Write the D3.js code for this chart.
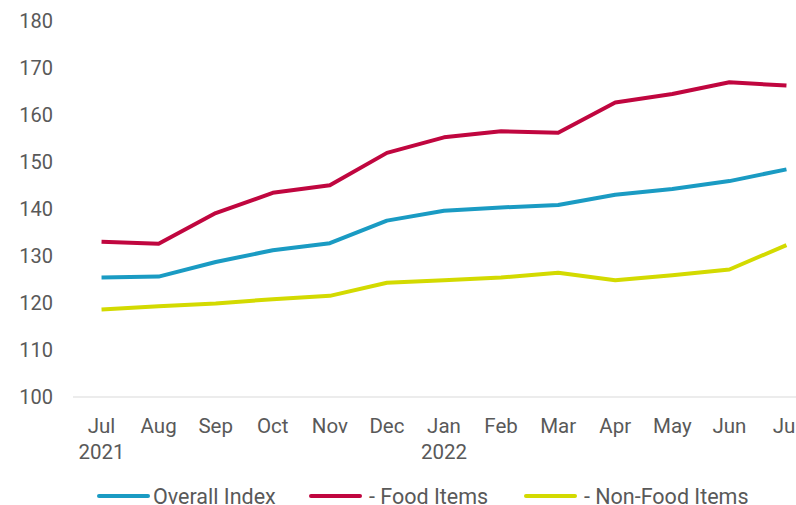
<!DOCTYPE html>
<html>
<head>
<meta charset="utf-8">
<script src="https://cdn.jsdelivr.net/npm/d3@7"></script>
<style>
  body { margin: 0; background: #fff; }
  svg { display: block; font-family: Roboto, "Noto Sans", sans-serif; }
</style>
</head>
<body>
<svg id="chart"></svg>
<script>
const months = ["Jul", "Aug", "Sep", "Oct", "Nov", "Dec", "Jan", "Feb", "Mar", "Apr", "May", "Jun", "Jul2"];
const monthLabels = ["Jul", "Aug", "Sep", "Oct", "Nov", "Dec", "Jan", "Feb", "Mar", "Apr", "May", "Jun", "Jul"];
const yearLabels = ["2021", "", "", "", "", "", "2022", "", "", "", "", "", ""];

const overallIndex = [125.4, 125.6, 128.7, 131.2, 132.7, 137.5, 139.6, 140.3, 140.8, 143.0, 144.2, 145.9, 148.4];
const foodItems = [133.0, 132.6, 139.1, 143.4, 145.0, 151.9, 155.2, 156.5, 156.2, 162.6, 164.4, 166.9, 166.2];
const nonFoodItems = [118.6, 119.3, 119.9, 120.8, 121.5, 124.3, 124.8, 125.4, 126.4, 124.8, 125.9, 127.1, 132.3];

const yTicks = [100, 110, 120, 130, 140, 150, 160, 170, 180];

const seriesNames = ["Overall Index", "- Food Items", "- Non-Food Items"];
const seriesColors = ["#1a9bc3", "#c0063f", "#d3da00"];

const width = 796, height = 505;
const svg = d3.select("#chart").attr("width", width).attr("height", height);

const x = d3.scalePoint()
    .domain(months)
    .range([73, 815])
    .padding(0.5);

const y = d3.scaleLinear()
    .domain([100, 180])
    .range([397, 20.7]);

// y tick labels, no axis line
svg.append("g")
    .selectAll("text")
    .data(yTicks)
    .enter().append("text")
    .attr("x", 53)
    .attr("y", d => y(d))
    .attr("dy", "0.35em")
    .attr("text-anchor", "end")
    .style("font-size", "20px")
    .style("fill", "#595959")
    .text(d => d);

// baseline
svg.append("line")
    .attr("x1", 73).attr("x2", width)
    .attr("y1", y(100)).attr("y2", y(100))
    .attr("stroke", "#d9d9d9")
    .attr("stroke-width", 1);

// x labels
const xl = svg.append("g");
xl.selectAll("text.m")
    .data(months)
    .enter().append("text")
    .attr("class", "m")
    .attr("x", d => x(d))
    .attr("y", 433)
    .attr("text-anchor", "middle")
    .style("font-size", "20.5px")
    .style("fill", "#595959")
    .text((d, i) => monthLabels[i]);
xl.selectAll("text.yr")
    .data(months)
    .enter().append("text")
    .attr("class", "yr")
    .attr("x", d => x(d))
    .attr("y", 459)
    .attr("text-anchor", "middle")
    .style("font-size", "20.5px")
    .style("fill", "#595959")
    .text((d, i) => yearLabels[i]);

const line = d3.line()
    .x((d, i) => x(months[i]))
    .y(d => y(d));

[overallIndex, foodItems, nonFoodItems].forEach((vals, k) => {
    svg.append("path")
        .datum(vals)
        .attr("d", line)
        .attr("fill", "none")
        .attr("stroke", seriesColors[k])
        .attr("stroke-width", 4)
        .attr("stroke-linejoin", "round");
});

// legend
const legendX = [99, 311, 526];
const legend = svg.append("g");
seriesNames.forEach((name, k) => {
    legend.append("line")
        .attr("x1", legendX[k]).attr("x2", legendX[k] + 49)
        .attr("y1", 496).attr("y2", 496)
        .attr("stroke", seriesColors[k])
        .attr("stroke-width", 4)
        .attr("stroke-linecap", "round");
    legend.append("text")
        .attr("x", legendX[k] + 54 + (k > 0 ? 4 : 0))
        .attr("y", 496)
        .attr("dy", "0.35em")
        .style("font-size", "21.5px")
        .style("fill", "#595959")
        .text(name);
});
</script>
</body>
</html>
